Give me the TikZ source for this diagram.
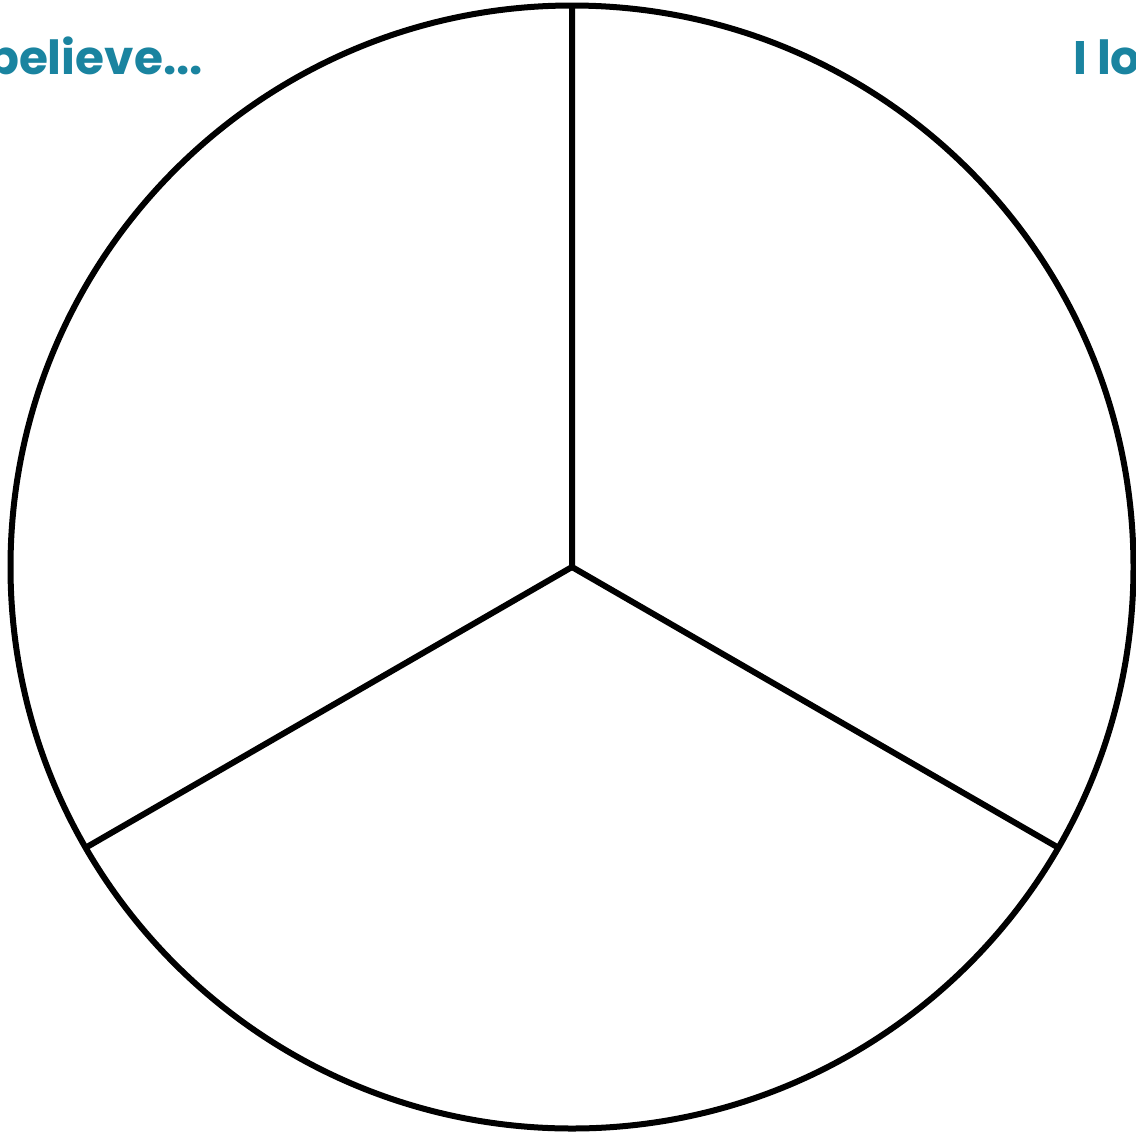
\documentclass[tikz,border=0pt]{standalone}
\usepackage{fontspec}
\setmainfont{Poppins}
\definecolor{teal1}{RGB}{26,132,160}
\tikzset{
  rim/.style={draw=black, line width=6pt},
  spoke/.style={draw=black, line width=6pt, line cap=butt},
  lbl/.style={text=teal1, font=\bfseries\fontsize{47}{50}\selectfont, inner sep=0pt}
}
\begin{document}
\begin{tikzpicture}[x=1pt,y=-1pt]
\useasboundingbox (0,0) rectangle (1136,1136);
\clip (0,0) rectangle (1136,1136);
\fill[white] (0,0) rectangle (1136,1136);
\coordinate (c) at (572,567);
\coordinate (top) at (572,6);
\coordinate (bl) at (86,847.5);
\coordinate (br) at (1058,847.5);
\node[rim, circle, minimum size=1123pt, inner sep=0pt] (circ) at (c) {};
\draw[spoke] (top) -- (c) -- (bl);
\draw[spoke] (c) -- (br);
\node[lbl, anchor=base east] (t1) at (203,74) {believe...};
\node[lbl, anchor=base west] (t2) at (1073,74) {I lo};
\end{tikzpicture}
\end{document}
